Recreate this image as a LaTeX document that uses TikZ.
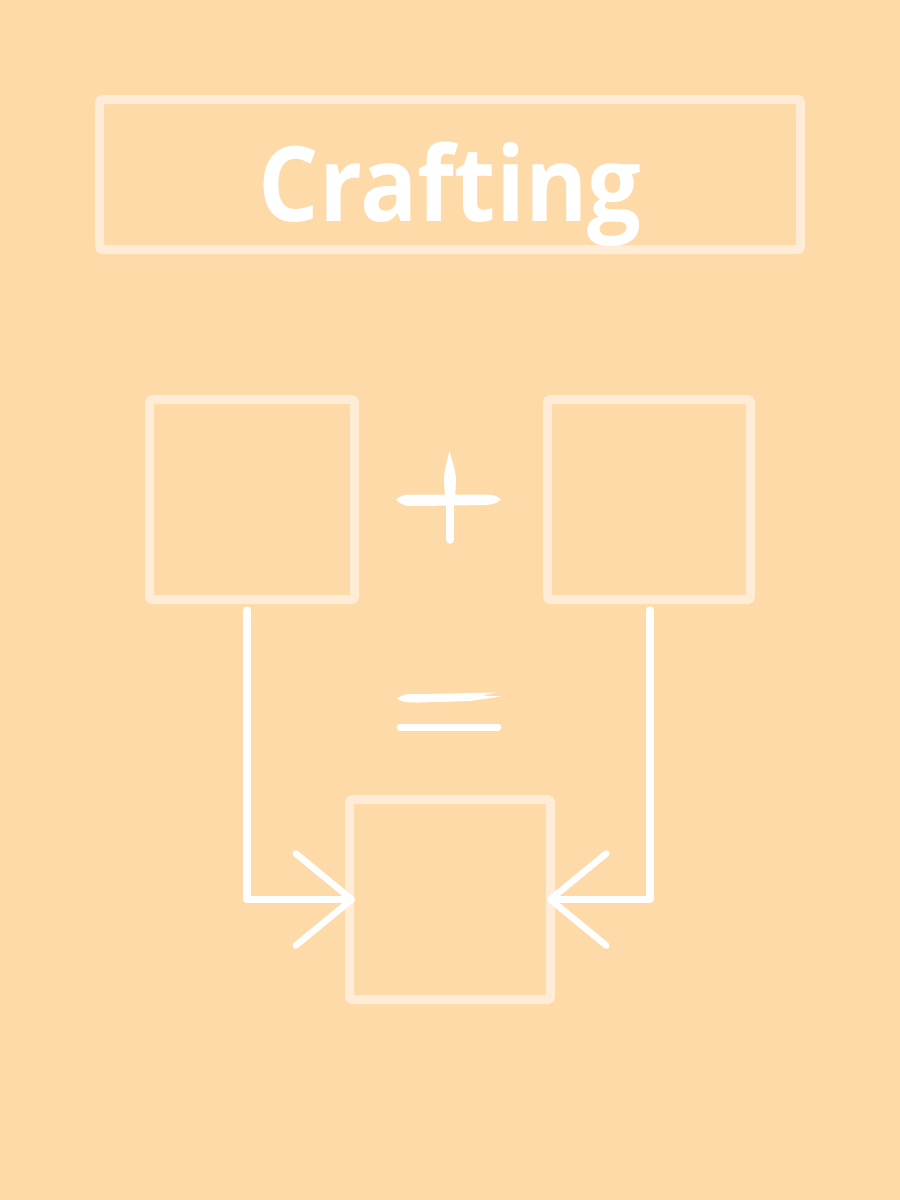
\documentclass[tikz,border=0pt]{standalone}
\usepackage{fontspec}
\setsansfont{Open Sans}
\usetikzlibrary{arrows.meta,calc}
\definecolor{bg}{HTML}{FDDAA8}
\definecolor{boxline}{HTML}{FEECD6}
\tikzset{
  cbox/.style={draw=boxline, line width=9pt, rounded corners=3pt, inner sep=0pt},
  titletext/.style={text=white, font=\sffamily\bfseries\fontsize{104}{120}\selectfont, inner sep=0pt},
  conn/.style={draw=white, line width=7.5pt, line join=round, line cap=round,
    -{Straight Barb[length=56pt,width=92pt,line width=6.5pt,round]}},
}
\begin{document}
\begin{tikzpicture}[x=1pt,y=-1pt]
\fill[bg] (0,0) rectangle (900,1200);
\useasboundingbox (0,0) rectangle (900,1200);
% boxes
\node[cbox, minimum width=701pt, minimum height=150pt] (titlebox) at (450,174.5) {};
\node[titletext, anchor=base] (title) at (450,221) {\scalebox{0.915}[1]{Crafting}};
\node[cbox, minimum width=205pt, minimum height=200pt] (left) at (252,499.5) {};
\node[cbox, minimum width=203pt, minimum height=200pt] (right) at (649,499.5) {};
\node[cbox, minimum width=201pt, minimum height=200pt] (result) at (450,899.5) {};
% connectors
\draw[conn] ($(left.south)+(-5,6)$) |- ($(result.west)+(10,0)$);
\draw[conn] ($(right.south)+(1,6)$) |- ($(result.east)+(-8,0)$);
% plus sign
\fill[white] (449.5,451) .. controls (453,464) and (456,472) .. (456,481) -- (455,498) -- (445,498) -- (444,481) .. controls (444,472) and (446,464) .. (449.5,451) -- cycle;
\draw[white, line width=8.5pt, line cap=round] (450,490) -- (450,539.5);
\fill[white] (396,499.5) .. controls (403,494.5) .. (420,494.5) -- (485,494.5) .. controls (495,495) .. (501,499.5) .. controls (495,504) .. (485,505) -- (420,506) .. controls (403,506) .. (396,499.5) -- cycle;
% equals sign
\fill[white] (397,698.5) .. controls (404,694) .. (420,694) -- (470,693) -- (497,692.5) -- (482,695.5) -- (501,696.5) -- (470,701) -- (420,702.5) .. controls (404,702.5) .. (397,698.5) -- cycle;
\draw[white, line width=7pt, line cap=round] (400,727) -- (498,727);
\end{tikzpicture}
\end{document}
